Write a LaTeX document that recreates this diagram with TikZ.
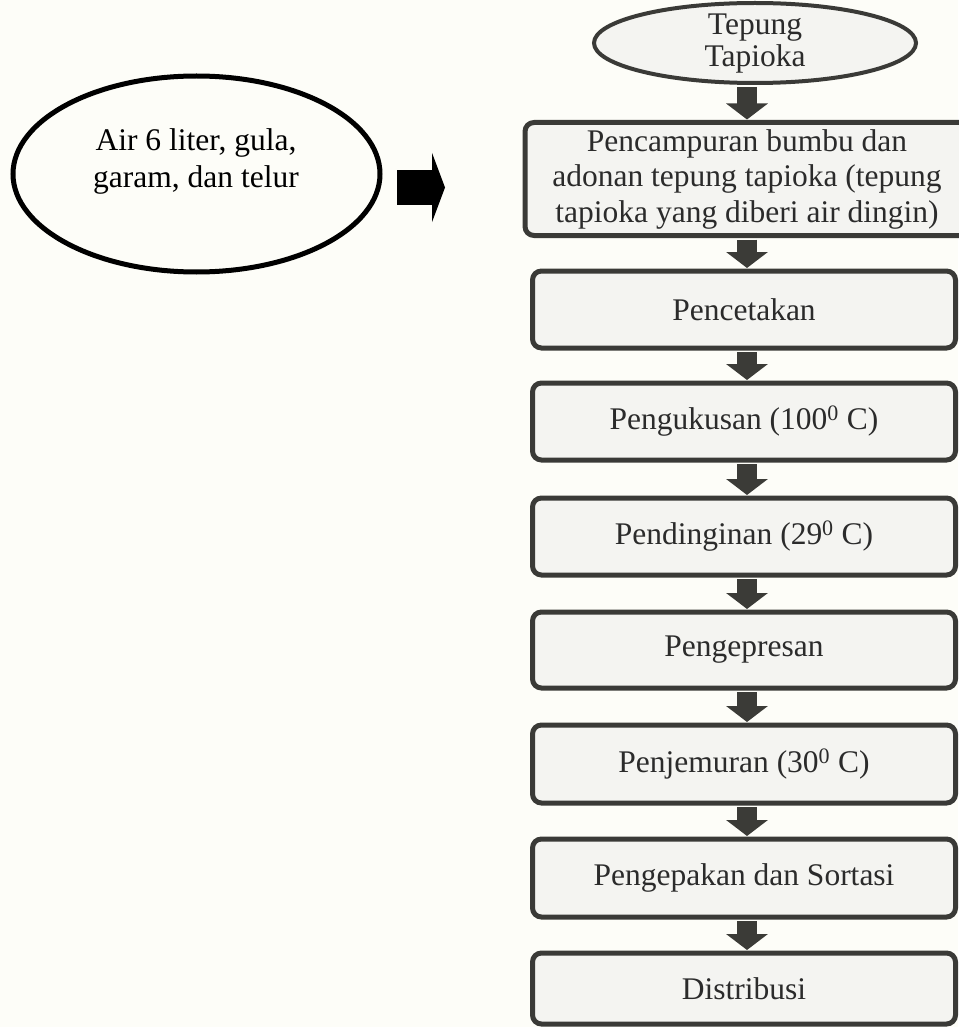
\documentclass[tikz,border=0pt]{standalone}
\usepackage{fontspec}
\setmainfont{Liberation Serif}
\usetikzlibrary{shapes.geometric,arrows.meta}
\definecolor{bg}{HTML}{FDFDF8}
\definecolor{edge}{HTML}{3A3A37}
\definecolor{boxfill}{HTML}{F4F4F1}
\definecolor{txt}{HTML}{2B2B2B}
\definecolor{arrowc}{HTML}{3B3B37}
\begin{document}
\begin{tikzpicture}[x=1pt,y=-1pt,
  every node/.style={font=\fontsize{31.5}{33}\selectfont, text=txt, inner sep=0pt, outer sep=0pt},
  procbox/.style={draw=edge, fill=boxfill, line width=5pt, rounded corners=9pt, minimum width=423pt, minimum height=77pt, align=center},
  flowarrow/.style={draw=arrowc, line width=20pt, -{Triangle[width=41pt,length=16pt]}, shorten <=4pt, shorten >=3pt},
  lbl/.style={align=center}
]
\fill[bg] (0,0) rectangle (958,1027);
\useasboundingbox (0,0) rectangle (958,1027);

% left ellipse with ingredients
\node[ellipse, draw=black, line width=5pt, minimum width=367pt, minimum height=196pt] (lell) at (196.5,174) {};
\node[lbl, text=black, font=\fontsize{31.5}{37}\selectfont] (ltext) at (196,161.5) {Air 6 liter, gula,\\garam, dan telur};

% left block arrow
\coordinate (la1) at (397,187.5);
\coordinate (la2) at (445,187.5);
\draw[draw=black, line width=35pt, -{Triangle[width=69pt,length=13pt]}] (la1) -- (la2);

% top ellipse
\node[ellipse, draw=edge, line width=4pt, fill=boxfill, minimum width=322pt, minimum height=80pt] (top) at (755,43) {};
\node[lbl, font=\fontsize{31.5}{32}\selectfont] (toptext) at (755,44) {Tepung\\Tapioka};

% process boxes (the first one runs past the right edge of the picture)
\node[procbox, minimum width=500pt, minimum height=113pt] (b1) at (775,179) {};
\node[lbl, font=\fontsize{31.5}{35.5}\selectfont] (b1text) at (747,179)
  {Pencampuran bumbu dan\\adonan tepung tapioka (tepung\\tapioka yang diberi air dingin)};
\node[procbox] (b2) at (744,309.5) {Pencetakan};
\node[procbox] (b3) at (744,421.5) {Pengukusan (100\textsuperscript{0} C)};
\node[procbox] (b4) at (744,536.5) {Pendinginan (29\textsuperscript{0} C)};
\node[procbox, minimum height=76pt] (b5) at (744,650) {Pengepresan};
\node[procbox, minimum height=78pt] (b6) at (744,764) {Penjemuran (30\textsuperscript{0} C)};
\node[procbox, minimum height=78pt] (b7) at (744,878) {Pengepakan dan Sortasi};
\node[procbox, minimum height=71pt] (b8) at (744,988.5) {Distribusi};

% arrows
\coordinate (ax) at (747,0);
\draw[flowarrow] (top.south -| ax) -- (b1.north -| ax);
\draw[flowarrow] (b1.south -| ax) -- (b2.north -| ax);
\draw[flowarrow] (b2.south -| ax) -- (b3.north -| ax);
\draw[flowarrow] (b3.south -| ax) -- (b4.north -| ax);
\draw[flowarrow] (b4.south -| ax) -- (b5.north -| ax);
\draw[flowarrow] (b5.south -| ax) -- (b6.north -| ax);
\draw[flowarrow] (b6.south -| ax) -- (b7.north -| ax);
\draw[flowarrow] (b7.south -| ax) -- (b8.north -| ax);
\end{tikzpicture}
\end{document}
